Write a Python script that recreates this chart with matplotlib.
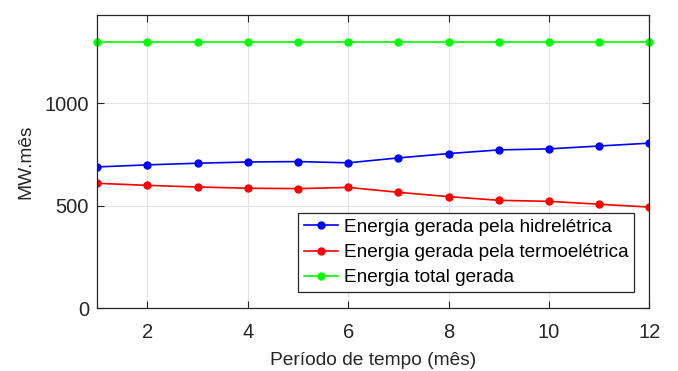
import matplotlib
matplotlib.use('Agg')
import matplotlib.pyplot as plt

plt.rcParams['font.family'] = ['Liberation Sans', 'DejaVu Sans']

# Energia mensal (MW.mês) ao longo de 12 meses
meses = [1, 2, 3, 4, 5, 6, 7, 8, 9, 10, 11, 12]
hidro = [690, 700, 708, 714, 716, 710, 734, 755, 773, 778, 792, 806]
termo = [610, 600, 592, 586, 584, 590, 566, 545, 527, 522, 508, 494]
total = [1300, 1300, 1300, 1300, 1300, 1300, 1300, 1300, 1300, 1300, 1300, 1300]

cinza = '#262626'

fig = plt.figure(figsize=(6.78, 3.71), dpi=100)
ax = fig.add_axes([0.1435, 0.169, 0.8142, 0.7898])

ax.plot(meses, hidro, '-o', color='blue', lw=1.2, ms=5,
        label='Energia gerada pela hidrelétrica')
ax.plot(meses, termo, '-o', color='red', lw=1.2, ms=5,
        label='Energia gerada pela termoelétrica')
ax.plot(meses, total, '-o', color='#00ff00', lw=1.2, ms=5,
        label='Energia total gerada', clip_on=False)

ax.set_xlim(1, 12)
ax.set_ylim(0, 1430)
ax.set_xticks([2, 4, 6, 8, 10, 12])
ax.set_yticks([0, 500, 1000])

ax.grid(True, color='#e3e3e3', lw=0.8)
ax.set_axisbelow(True)
for s in ax.spines.values():
    s.set_color(cinza)
    s.set_linewidth(0.9)
ax.tick_params(direction='in', length=5, width=0.8, colors=cinza,
               labelsize=14.5, top=True, right=True)
ax.tick_params(axis='x', pad=10.5)
ax.tick_params(axis='y', pad=6)

ax.set_xlabel('Período de tempo (mês)', fontsize=13.8, color=cinza, labelpad=7)
ax.set_ylabel('MW.mês', fontsize=13.8, color=cinza, labelpad=7)

leg = ax.legend(loc='lower right', bbox_to_anchor=(0.973, 0.055), fontsize=13.7,
                frameon=True, fancybox=False, edgecolor=cinza, framealpha=1,
                handlelength=1.8, handletextpad=0.3, borderpad=0.3,
                labelspacing=0.42, borderaxespad=0)
leg.get_frame().set_linewidth(0.9)

fig.savefig('out.png', dpi=100)
